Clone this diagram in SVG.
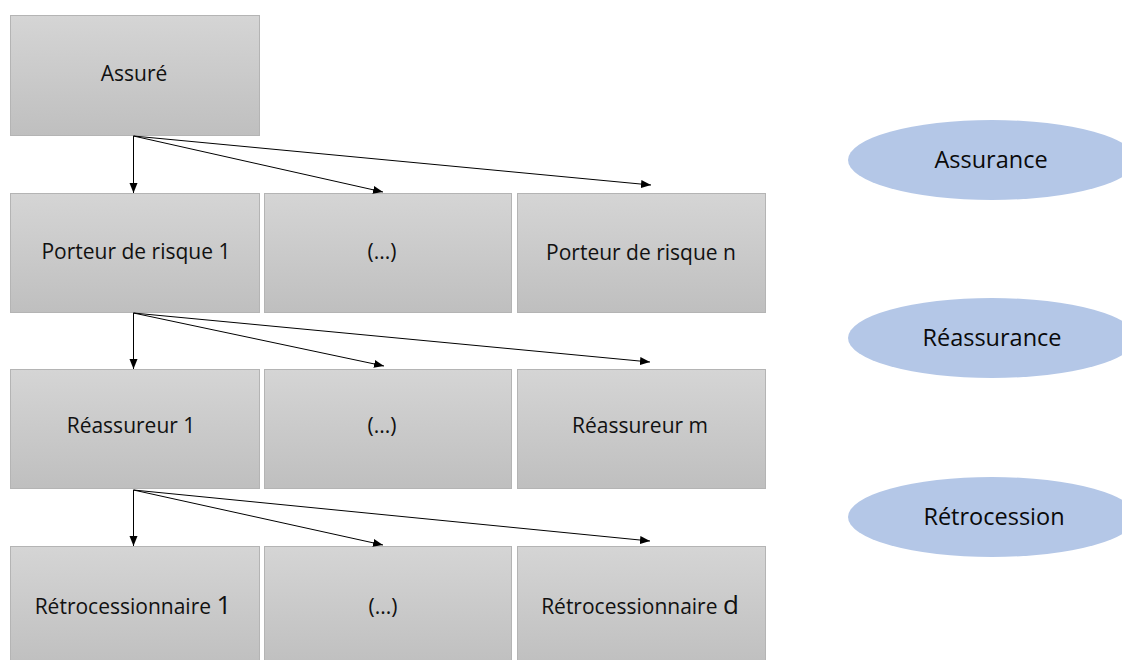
<svg xmlns="http://www.w3.org/2000/svg" width="1122" height="660" viewBox="0 0 1122 660">
  <style>
    .box { fill: url(#boxFill); stroke: #b4b4b4; stroke-width: 1; }
    .lbl { font-family: "Open Sans", "Noto Sans", "Liberation Sans", sans-serif; font-size: 21px; fill: #111; text-anchor: middle; }
    .big { font-size: 26px; }
    .phase { fill: #b4c7e7; }
    .plbl { font-family: "Open Sans", "Noto Sans", "Liberation Sans", sans-serif; font-size: 23.5px; fill: #0a0a0a; text-anchor: middle; }
    .link { stroke: #000; stroke-width: 1; fill: none; marker-end: url(#arrow); }
  </style>
  <defs>
    <linearGradient id="boxFill" x1="0" y1="0" x2="0" y2="1">
      <stop offset="0" stop-color="#d5d5d5"/>
      <stop offset="1" stop-color="#bfbfbf"/>
    </linearGradient>
    <marker id="arrow" viewBox="0 0 10 10" refX="10" refY="5" markerWidth="10" markerHeight="10" markerUnits="userSpaceOnUse" orient="auto">
      <path d="M0,1 L10,5 L0,9 Z" fill="#000"/>
    </marker>
  </defs>

  <rect width="1122" height="660" fill="#fff"/>

  <!-- phase labels -->
  <g id="phase-assurance">
    <ellipse class="phase" cx="992" cy="160" rx="144" ry="40"/>
    <text class="plbl" x="991" y="168">Assurance</text>
  </g>
  <g id="phase-reassurance">
    <ellipse class="phase" cx="992" cy="338" rx="144" ry="40"/>
    <text class="plbl" x="992" y="346">Réassurance</text>
  </g>
  <g id="phase-retrocession">
    <ellipse class="phase" cx="992" cy="517" rx="144" ry="40"/>
    <text class="plbl" x="994" y="525">Rétrocession</text>
  </g>

  <!-- level 0 -->
  <g id="assure">
    <rect class="box" x="10.5" y="15.5" width="249" height="120"/>
    <text class="lbl" x="134" y="81">Assuré</text>
  </g>

  <!-- level 1 -->
  <g id="porteur-1">
    <rect class="box" x="10.5" y="193.5" width="249" height="119"/>
    <text class="lbl" x="136" y="259">Porteur de risque 1</text>
  </g>
  <g id="porteur-mid">
    <rect class="box" x="264.5" y="193.5" width="247" height="119"/>
    <text class="lbl" x="382" y="259">(...)</text>
  </g>
  <g id="porteur-n">
    <rect class="box" x="517.5" y="193.5" width="248" height="119"/>
    <text class="lbl" x="641" y="260">Porteur de risque n</text>
  </g>

  <!-- level 2 -->
  <g id="reassureur-1">
    <rect class="box" x="10.5" y="369.5" width="249" height="119"/>
    <text class="lbl" x="131" y="433">Réassureur 1</text>
  </g>
  <g id="reassureur-mid">
    <rect class="box" x="264.5" y="369.5" width="247" height="119"/>
    <text class="lbl" x="382" y="433">(...)</text>
  </g>
  <g id="reassureur-m">
    <rect class="box" x="517.5" y="369.5" width="248" height="119"/>
    <text class="lbl" x="640" y="433">Réassureur m</text>
  </g>

  <!-- level 3 -->
  <g id="retro-1">
    <rect class="box" x="10.5" y="546.5" width="249" height="120"/>
    <text class="lbl" x="133" y="614">Rétrocessionnaire <tspan class="big">1</tspan></text>
  </g>
  <g id="retro-mid">
    <rect class="box" x="264.5" y="546.5" width="247" height="120"/>
    <text class="lbl" x="383" y="614">(...)</text>
  </g>
  <g id="retro-d">
    <rect class="box" x="517.5" y="546.5" width="248" height="120"/>
    <text class="lbl" x="640" y="614">Rétrocessionnaire <tspan class="big">d</tspan></text>
  </g>

  <!-- connectors -->
  <g id="connectors">
    <line class="link" x1="133.5" y1="136" x2="133.5" y2="193"/>
    <line class="link" x1="133.5" y1="136" x2="383" y2="192"/>
    <line class="link" x1="133.5" y1="136" x2="651" y2="185"/>

    <line class="link" x1="133.5" y1="313" x2="133.5" y2="369"/>
    <line class="link" x1="133.5" y1="313" x2="384" y2="366"/>
    <line class="link" x1="133.5" y1="313" x2="650" y2="362"/>

    <line class="link" x1="133.5" y1="490" x2="133.5" y2="546"/>
    <line class="link" x1="133.5" y1="490" x2="383" y2="545"/>
    <line class="link" x1="133.5" y1="490" x2="650" y2="541"/>
  </g>
</svg>
